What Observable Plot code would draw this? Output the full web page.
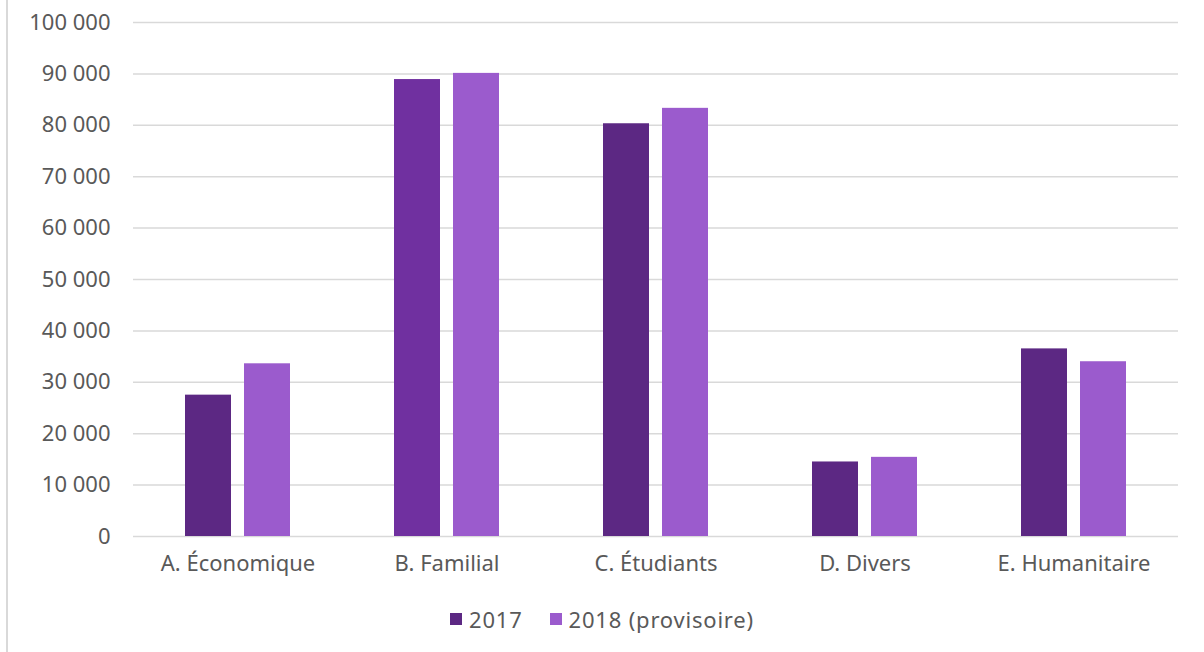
<!DOCTYPE html>
<html>
<head>
<meta charset="utf-8">
<script src="https://cdn.jsdelivr.net/npm/d3@7"></script>
<script src="https://cdn.jsdelivr.net/npm/@observablehq/plot@0.6"></script>
<style>
  html, body { margin: 0; padding: 0; background: #fff; }
  body { width: 1204px; height: 652px; position: relative; overflow: hidden; font-family: "Century Gothic", "Noto Sans", sans-serif; }
  #frame { position: absolute; left: 6px; top: -2px; width: 1300px; height: 700px; border: 2px solid #d9d9d9; box-sizing: border-box; }
  #chart { position: absolute; left: 0; top: 0; }
  #legend { position: absolute; left: 0; top: 604px; width: 1204px; display: flex; justify-content: center; gap: 27px; font-size: 22px; color: #595959; letter-spacing: 0.8px; }
  .item { display: flex; align-items: center; }
  .sw { width: 12px; height: 12px; margin-right: 7px; display: inline-block; }
</style>
</head>
<body>
<div id="frame"></div>
<div id="chart"></div>
<div id="legend"></div>
<script>
const categories = ["A. Économique", "B. Familial", "C. Étudiants", "D. Divers", "E. Humanitaire"];
const seriesNames = ["2017", "2018 (provisoire)"];
const values2017 = [27500, 88900, 80300, 14500, 36500];
const values2018 = [33600, 90100, 83300, 15400, 34000];
const barColors2017 = ["#5c2883", "#7030a0", "#5c2883", "#5c2883", "#5c2883"];
const seriesColors = ["#5c2883", "#9b5bcd"];
const yTicks = [0, 10000, 20000, 30000, 40000, 50000, 60000, 70000, 80000, 90000, 100000];

const rows = [];
categories.forEach((c, i) => {
  rows.push({category: c, series: seriesNames[0], value: values2017[i], color: barColors2017[i]});
  rows.push({category: c, series: seriesNames[1], value: values2018[i], color: seriesColors[1]});
});

const fr = d3.formatLocale({decimal: ",", thousands: "\u00a0", grouping: [3], currency: ["", " €"]});
const fmt = fr.format(",d");

const chart = Plot.plot({
  width: 1204,
  height: 590,
  marginLeft: 131,
  marginRight: 24,
  marginTop: 22,
  marginBottom: 54,
  style: {fontFamily: '"Century Gothic", "Noto Sans", sans-serif', fontSize: "22px", color: "#595959", background: "transparent"},
  fx: {domain: categories, padding: 0, label: null},
  x: {domain: seriesNames, paddingInner: 0.2167, paddingOuter: 0.857, axis: null},
  y: {domain: [0, 100000], label: null},
  marks: [
    Plot.gridY(yTicks, {stroke: "#d9d9d9", strokeOpacity: 1, strokeWidth: 1.5}),
    Plot.barY(rows, {fx: "category", x: "series", y: "value", fill: "color"}),
    Plot.axisY(yTicks, {tickSize: 0, tickPadding: 23, tickFormat: fmt, fill: "#595959", fontSize: 22, label: null, style: {letterSpacing: "0.6px"}}),
    Plot.axisFx({anchor: "bottom", tickSize: 0, tickPadding: 19, fill: "#595959", fontSize: 22, label: null, style: {letterSpacing: "1.4px"}})
  ]
});
document.getElementById("chart").appendChild(chart);

const legend = document.getElementById("legend");
seriesNames.forEach((s, i) => {
  const item = document.createElement("div");
  item.className = "item";
  const sw = document.createElement("span");
  sw.className = "sw";
  sw.style.background = seriesColors[i];
  const t = document.createElement("span");
  t.textContent = s;
  item.appendChild(sw);
  item.appendChild(t);
  legend.appendChild(item);
});
</script>
</body>
</html>
